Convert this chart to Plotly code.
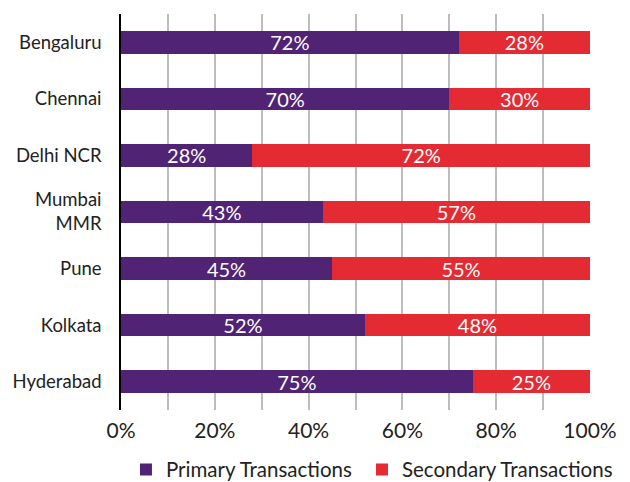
import plotly.graph_objects as go

cities = ["Bengaluru", "Chennai", "Delhi NCR", "Mumbai<br>MMR", "Pune", "Kolkata", "Hyderabad"]
primary = [72, 70, 28, 43, 45, 52, 75]
secondary = [28, 30, 72, 57, 55, 48, 25]
tick_vals = [0, 20, 40, 60, 80, 100]
tick_text = ["0%", "20%", "40%", "60%", "80%", "100%"]

PURPLE = "#512375"
RED = "#E42A32"
FONT = "Lato"

fig = go.Figure()
fig.add_trace(go.Bar(
    y=cities, x=primary, orientation="h", name="Primary Transactions",
    marker=dict(color=PURPLE, line=dict(width=0)),
    text=[f"{v}%" for v in primary], textposition="inside", insidetextanchor="middle",
    textfont=dict(color="white", size=20, family=FONT),
))
fig.add_trace(go.Bar(
    y=cities, x=secondary, orientation="h", name="Secondary Transactions",
    marker=dict(color=RED, line=dict(width=0)),
    text=[f"{v}%" for v in secondary], textposition="inside", insidetextanchor="middle",
    textfont=dict(color="white", size=20, family=FONT),
))

fig.update_layout(
    barmode="stack",
    bargap=0.6,
    width=630, height=482,
    margin=dict(l=121, r=40, t=14, b=72, autoexpand=False),
    paper_bgcolor="white", plot_bgcolor="white",
    font=dict(family=FONT, size=18, color="#222222"),
    uniformtext=dict(mode="show", minsize=20),
    legend=dict(orientation="h", x=-0.0001, xanchor="left", y=-0.10, yanchor="top",
                font=dict(size=20.5, color="#222222"), traceorder="normal",
                itemwidth=30, tracegroupgap=0, bgcolor="rgba(0,0,0,0)",
                indentation=5),
    showlegend=True,
)
fig.update_xaxes(
    range=[0, 100], tickmode="array", tickvals=tick_vals, ticktext=tick_text,
    showgrid=True, gridcolor="#BDBDBD", gridwidth=1.5,
    zeroline=False, showline=False,
    tickfont=dict(size=21, color="#222222"), ticklabelstandoff=6,
    minor=dict(dtick=10, showgrid=True, gridcolor="#BDBDBD", gridwidth=1.5),
)
fig.update_yaxes(
    autorange="reversed", showgrid=False, zeroline=False,
    showline=True, linecolor="black", linewidth=1.5,
    tickfont=dict(size=18.5, color="#222222"), ticklabelstandoff=14,
)

fig.write_html("out.html")
